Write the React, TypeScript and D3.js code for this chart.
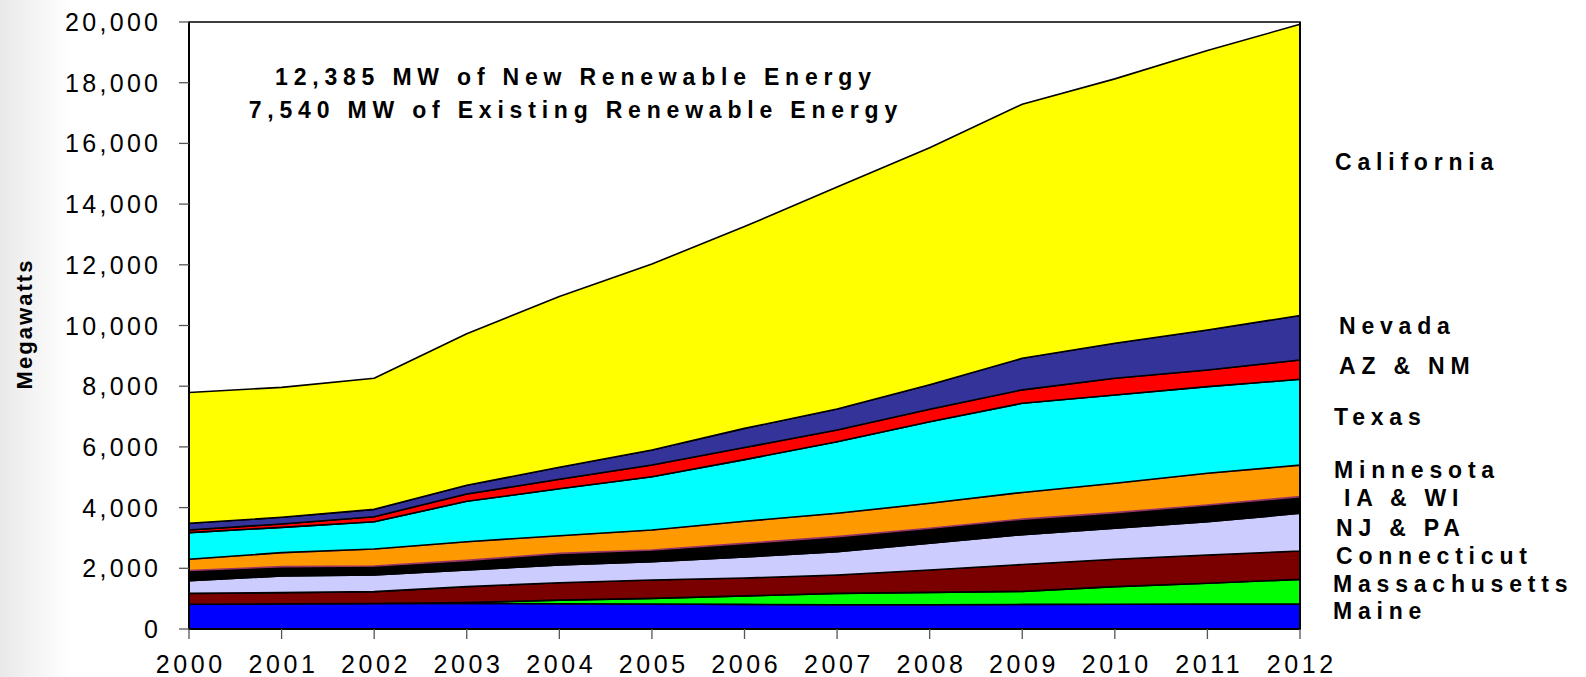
import React from 'react';
import * as d3 from 'd3';

// ---- data ----
const years = [2000, 2001, 2002, 2003, 2004, 2005, 2006, 2007, 2008, 2009, 2010, 2011, 2012];

const maine = [815, 830, 840, 845, 830, 825, 810, 800, 800, 810, 815, 820, 820];
const massachusetts = [0, 0, 0, 30, 120, 185, 280, 375, 408, 430, 580, 685, 816];
const connecticut = [360, 367, 390, 520, 576, 605, 590, 604, 736, 885, 901, 933, 934];
const njpa = [417, 550, 549, 549, 583, 604, 690, 769, 879, 985, 1022, 1098, 1242];
const iawi = [338, 307, 297, 316, 384, 384, 450, 495, 495, 510, 515, 550, 549];
const minnesota = [370, 461, 560, 617, 582, 659, 730, 769, 823, 880, 967, 1044, 1039];
const texas = [874, 835, 900, 1330, 1545, 1757, 2030, 2360, 2690, 2937, 2911, 2855, 2827];
const aznm = [88, 110, 165, 241, 312, 385, 400, 385, 408, 443, 549, 550, 637];
const nevada = [220, 220, 242, 286, 396, 494, 630, 693, 811, 1040, 1154, 1317, 1466];
const california = [4311, 4281, 4317, 4993, 5631, 6129, 6649, 7311, 7809, 8373, 8712, 9207, 9595];

const seriesNames = ['Maine', 'Massachusetts', 'Connecticut', 'NJ & PA', 'IA & WI', 'Minnesota', 'Texas', 'AZ & NM', 'Nevada', 'California'];
const seriesValues = [maine, massachusetts, connecticut, njpa, iawi, minnesota, texas, aznm, nevada, california];

const yTickValues = [0, 2000, 4000, 6000, 8000, 10000, 12000, 14000, 16000, 18000, 20000];
const annotationLines = ['12,385 MW of New Renewable Energy', '7,540 MW of Existing Renewable Energy'];
const yAxisTitle = 'Megawatts';

// ---- styles / layout ----
const fills: Record<string, string> = {
  'Maine': '#0000FF',
  'Massachusetts': '#00FF00',
  'Connecticut': '#7A0000',
  'NJ & PA': '#CCCCFF',
  'IA & WI': '#000000',
  'Minnesota': '#FF9900',
  'Texas': '#00FFFF',
  'AZ & NM': '#FF0000',
  'Nevada': '#333399',
  'California': '#FFFF00',
};
const strokes: Record<string, string> = { 'Minnesota': '#993366' };

const labelLayout: Record<string, { x: number; y: number }> = {
  'California': { x: 1335, y: 170 },
  'Nevada': { x: 1339, y: 334 },
  'AZ & NM': { x: 1339, y: 374 },
  'Texas': { x: 1334, y: 425 },
  'Minnesota': { x: 1334, y: 478 },
  'IA & WI': { x: 1344, y: 506 },
  'NJ & PA': { x: 1336, y: 536 },
  'Connecticut': { x: 1336, y: 564 },
  'Massachusetts': { x: 1333, y: 592 },
  'Maine': { x: 1333, y: 619 },
};

const W = 1586;
const H = 677;
const L = 189, R = 1300, T = 22, B = 629;
const FONT = '"Liberation Sans", Arial, Helvetica, sans-serif';

export default function App() {
  const x = d3.scaleLinear().domain([years[0], years[years.length - 1]]).range([L, R]);
  const y = d3.scaleLinear().domain([0, 20000]).range([B, T]);

  const rows = years.map((yr, i) => {
    const r: any = { year: yr };
    seriesNames.forEach((n, k) => { r[n] = seriesValues[k][i]; });
    return r;
  });
  const stacked = d3.stack<any>().keys(seriesNames)(rows);
  const area = d3.area<any>()
    .x((d: any) => x(d.data.year))
    .y0((d: any) => y(d[0]))
    .y1((d: any) => y(d[1]));

  const fmt = d3.format(',');

  return (
    <svg width={W} height={H} style={{ position: 'absolute', left: 0, top: 0, background: '#fff' }} fontFamily={FONT}>
      <defs>
        <linearGradient id="lg" x1="0" x2="1" y1="0" y2="0">
          <stop offset="0" stopColor="#e9e9e9" />
          <stop offset="1" stopColor="#ffffff" />
        </linearGradient>
      </defs>
      <rect x={0} y={0} width={W} height={H} fill="#fff" />
      <rect x={0} y={0} width={70} height={H} fill="url(#lg)" />
      <rect x={L} y={T} width={R - L} height={B - T} fill="#fff" stroke="#000" strokeWidth={1.5} />

      {stacked.map((s: any) => (
        <path key={s.key} d={area(s) || ''} fill={fills[s.key]}
          stroke={strokes[s.key] || '#000'} strokeWidth={1.6} strokeLinejoin="round" />
      ))}

      {/* axes */}
      <line x1={L} x2={L} y1={T} y2={B} stroke="#000" strokeWidth={2} />
      <line x1={L} x2={R} y1={B} y2={B} stroke="#000" strokeWidth={2} />
      <line x1={R} x2={R} y1={T} y2={B} stroke="#000" strokeWidth={2} />

      {yTickValues.map(v => (
        <g key={v}>
          <line x1={L - 10} x2={L} y1={y(v)} y2={y(v)} stroke="#555" strokeWidth={1.3} />
          <text x={158 + 3.3} y={y(v) + 9} textAnchor="end" fontSize={25} letterSpacing={3.3} fill="#000">{fmt(v)}</text>
        </g>
      ))}
      {years.map(yr => (
        <g key={yr}>
          <line x1={x(yr)} x2={x(yr)} y1={B} y2={B + 10} stroke="#555" strokeWidth={1.3} />
          <text x={x(yr) + 1.8} y={673} textAnchor="middle" fontSize={25} letterSpacing={3.6} fill="#000">{yr}</text>
        </g>
      ))}

      <text transform={`translate(32,325) rotate(-90)`} textAnchor="middle" fontSize={22} fontWeight="bold"
        textLength={129} lengthAdjust="spacing">{yAxisTitle}</text>

      {annotationLines.map((t, i) => (
        <text key={i} x={573 + 2.9} y={85 + i * 33} textAnchor="middle" fontSize={23} fontWeight="bold" letterSpacing={5.8}>{t}</text>
      ))}

      {seriesNames.map(n => (
        <text key={n} x={labelLayout[n].x} y={labelLayout[n].y} fontSize={23} fontWeight="bold" letterSpacing={5.8}>{n}</text>
      ))}
    </svg>
  );
}
